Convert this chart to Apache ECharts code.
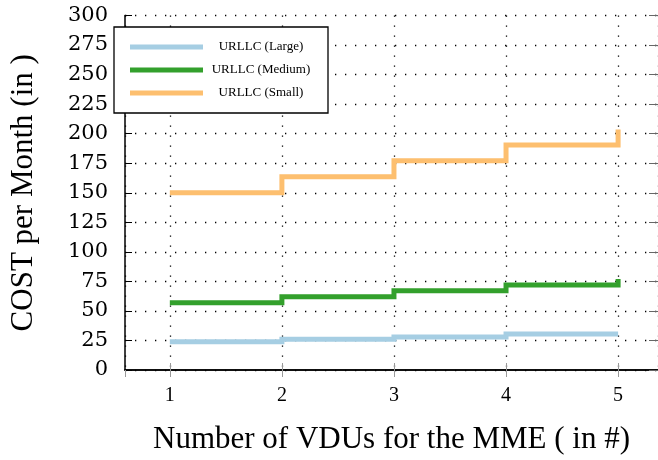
<!DOCTYPE html>
<html>
<head>
<meta charset="utf-8">
<script src="https://cdn.jsdelivr.net/npm/echarts@6/dist/echarts.min.js"></script>
<style>
html,body{margin:0;padding:0;background:#fff;}
#c{width:658px;height:460px;}
</style>
</head>
<body>
<div id="c"></div>
<script>
var vdus = [1, 2, 3, 4, 5];
var seriesNames = ['URLLC (Large)', 'URLLC (Medium)', 'URLLC (Small)'];
var costLarge = [24, 26, 28, 30.5, 31];
var costMedium = [57, 62, 67, 72, 77];
var costSmall = [150, 163.5, 177, 190.5, 203.5];
var colors = ['#a6cee3', '#33a02c', '#fdbf6f'];
var xTitle = 'Number of VDUs for the MME ( in #)';
var yTitle = 'COST per Month (in )';

function pairs(vals) { return vdus.map(function (x, i) { return [x, vals[i]]; }); }
var allVals = [costLarge, costMedium, costSmall];

var serif = 'Liberation Serif';
var xMin = 0.6, xMax = 5.356;
var grid = { left: 124, right: 0, top: 15.5, bottom: 89, containLabel: false };
var dotted = { color: '#000', width: 1.3, type: [1.3, 8.7] };

var chart = echarts.init(document.getElementById('c'), null, { renderer: 'canvas' });
chart.setOption({
  animation: false,
  backgroundColor: '#fff',
  grid: grid,
  legend: {
    left: 114, top: 27,
    orient: 'vertical',
    padding: [12, 14, 12, 16],
    backgroundColor: '#fff',
    borderColor: '#000',
    borderWidth: 1.3,
    borderRadius: 0,
    itemWidth: 73,
    itemHeight: 5,
    itemGap: 7,
    icon: 'rect',
    data: seriesNames,
    formatter: function (n) { return '{a|' + n + '}'; },
    textStyle: {
      fontFamily: serif, fontSize: 13, color: '#000', lineHeight: 16,
      rich: { a: { width: 106, align: 'center', fontFamily: serif, fontSize: 13, color: '#000', lineHeight: 16 } }
    }
  },
  xAxis: [{
    type: 'value', min: xMin, max: xMax, position: 'bottom',
    name: xTitle, nameLocation: 'middle', nameGap: 54,
    nameTextStyle: { fontFamily: serif, fontSize: 31, color: '#000' },
    axisLine: { show: true, lineStyle: { color: '#000', width: 1.5 } },
    axisTick: { show: true, inside: true, length: 7, lineStyle: { color: '#999', width: 1 } },
    axisLabel: {
      fontFamily: serif, fontSize: 20, color: '#000', margin: 16,
      showMinLabel: false, showMaxLabel: false,
      formatter: function (v) { return (Math.abs(v - Math.round(v)) < 1e-6) ? String(Math.round(v)) : ''; }
    },
    splitLine: { show: true, lineStyle: dotted }
  }, {
    type: 'value', min: xMin, max: xMax, position: 'top',
    axisLine: { show: true, lineStyle: { color: '#000', width: 1.5 } },
    axisTick: { show: true, inside: true, length: 7, lineStyle: { color: '#999', width: 1 } },
    axisLabel: { show: false },
    splitLine: { show: false }
  }],
  yAxis: [{
    type: 'value', min: 0, max: 300, interval: 25, position: 'left',
    name: yTitle, nameLocation: 'middle', nameGap: 86,
    nameTextStyle: { fontFamily: serif, fontSize: 31, color: '#000' },
    axisLine: { show: true, lineStyle: { color: '#000', width: 1.5 } },
    axisTick: { show: true, inside: true, length: 7, lineStyle: { color: '#000', width: 1 } },
    axisLabel: { fontFamily: 'DejaVu Serif', fontSize: 21, color: '#000', margin: 17 },
    splitLine: { show: true, lineStyle: dotted }
  }, {
    type: 'value', min: 0, max: 300, interval: 25, position: 'right',
    axisLine: { show: false },
    axisTick: { show: true, inside: true, length: 9, lineStyle: { color: '#666', width: 1 } },
    axisLabel: { show: false },
    splitLine: { show: false }
  }],
  series: seriesNames.map(function (n, i) {
    return {
      name: n, type: 'line', step: 'end', symbol: 'none',
      xAxisIndex: 0, yAxisIndex: 0,
      color: colors[i],
      lineStyle: { color: colors[i], width: 5, join: 'miter', cap: 'butt' },
      data: pairs(allVals[i])
    };
  })
});
</script>
</body>
</html>
